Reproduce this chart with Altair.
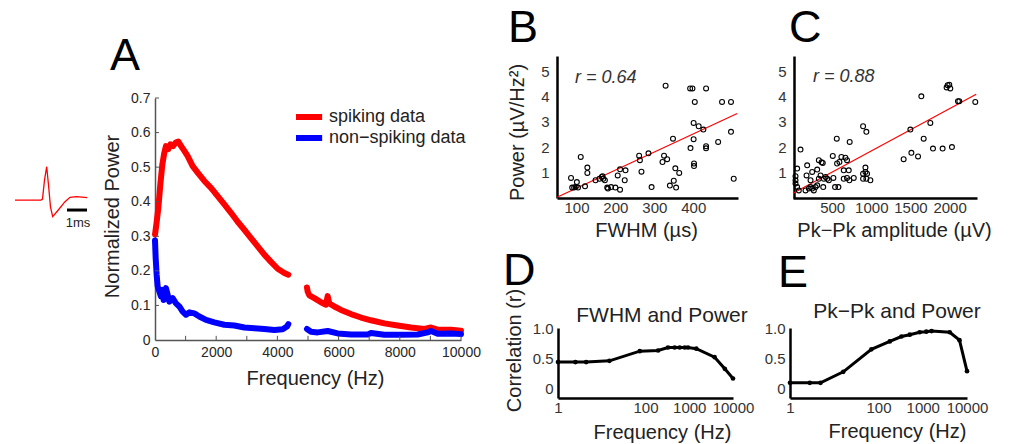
import altair as alt
import pandas as pd

FONT = "Liberation Sans"
TXT = "#222222"

# ---------------- Panel A data ----------------
spk_freq = [0, 44, 109, 174, 240, 305, 359, 436, 501, 588, 675, 763, 850, 959, 1068, 1231, 1394,
            1612, 1830, 2048, 2266, 2484, 2702, 2919, 3137, 3355, 3573, 3791, 4009, 4227, 4357,
            4967, 4989, 5044, 5207, 5425, 5588, 5643, 5697, 5861, 6078, 6405, 6732, 7059, 7495,
            7930, 8366, 8802, 9020, 9237, 9673, 10000]
spk_power = [0.305, 0.334, 0.382, 0.45, 0.508, 0.542, 0.561, 0.552, 0.566, 0.561, 0.571, 0.574,
             0.561, 0.547, 0.532, 0.503, 0.484, 0.46, 0.44, 0.416, 0.392, 0.368, 0.342, 0.319,
             0.295, 0.271, 0.247, 0.226, 0.206, 0.194, 0.189,
             0.152, 0.14, 0.129, 0.121, 0.109, 0.102, 0.127, 0.106, 0.097, 0.087, 0.075, 0.065,
             0.057, 0.048, 0.042, 0.036, 0.032, 0.036, 0.030, 0.030, 0.027]
non_freq = [0, 22, 54, 87, 142, 196, 251, 283, 359, 414, 468, 577, 686, 795, 904, 1013, 1122,
            1285, 1449, 1667, 1939, 2266, 2593, 2919, 3246, 3573, 3900, 4172, 4314, 4357,
            4967, 5098, 5316, 5643, 5970, 6405, 6950, 7059, 7495, 8039, 8584, 8911, 9020, 9237,
            9673, 10000]
non_power = [0.288, 0.237, 0.189, 0.155, 0.14, 0.126, 0.145, 0.116, 0.15, 0.131, 0.111, 0.121,
             0.106, 0.097, 0.082, 0.073, 0.08, 0.077, 0.068, 0.058, 0.051, 0.044, 0.042, 0.036,
             0.034, 0.032, 0.029, 0.031, 0.039, 0.046,
             0.032, 0.024, 0.022, 0.026, 0.019, 0.016, 0.016, 0.020, 0.015, 0.015, 0.016, 0.022,
             0.026, 0.018, 0.019, 0.017]
series_names = ["spiking data", "non\u2212spiking data"]
series_colors = ["#ff0000", "#0000ff"]
a_xticks = [1000, 2000, 3000, 4000, 5000, 6000, 7000, 8000, 9000, 10000]
a_yticks = [0.1, 0.2, 0.3, 0.4, 0.5, 0.6, 0.7]

# waveform inset (ms, arbitrary units)
wave_t = [0, 1.3, 1.375, 1.475, 1.585, 1.675, 1.775, 1.885, 2.165, 2.5, 2.75, 3.085, 3.615]
wave_v = [0, 0, 0.03, 0.6, 1.0, 0.45, -0.21, -0.5, -0.3, -0.05, 0.08, 0.1, 0.07]
bar_t = [2.6, 3.6]
bar_v = [-0.3, -0.3]

# ---------------- Panel B data ----------------
fwhm = [86, 89, 94, 98, 101, 104, 122, 111, 128, 128, 149, 159, 165, 169, 173, 167, 179, 181,
        189, 200, 206, 212, 212, 224, 226, 261, 263, 267, 285, 293, 321, 325, 333, 329, 340,
        348, 350, 354, 356, 364, 393, 392, 398, 401, 404, 401, 402, 402, 414, 426, 433, 433,
        433, 464, 474, 497, 497, 504]
power_b = [0.79, 0.41, 0.41, 0.43, 0.63, 0.41, 0.46, 1.62, 1.2, 0.99, 0.70, 0.76, 0.83, 0.76,
           0.70, 0.86, 0.41, 0.37, 0.43, 0.41, 0.89, 1.13, 0.33, 0.70, 1.09, 1.67, 1.49, 1.04,
           1.76, 0.43, 1.42, 1.67, 1.53, 4.43, 0.49, 2.34, 0.68, 1.17, 0.41, 0.99, 1.97, 4.32,
           4.32, 2.96, 3.79, 2.32, 1.36, 1.26, 2.83, 2.70, 4.32, 2.04, 1.96, 2.21, 3.79, 3.79,
           2.61, 0.76]
fit_b_x = [50, 513]
fit_b_y = [0.03, 3.33]

# ---------------- Panel C data ----------------
pkpk = [96, 53, 32, 32, 53, 74, 32, 181, 245, 224, 245, 266, 288, 309, 330, 365, 380, 309, 352,
        394, 416, 437, 386, 173, 508, 559, 563, 593, 618, 516, 537, 580, 648, 669, 690, 724,
        712, 690, 720, 776, 648, 895, 937, 925, 925, 895, 946, 895, 937, 988, 1413, 1499, 1512,
        1597, 1639, 1669, 1754, 1788, 1911, 1975, 1996, 1962, 2009, 2030, 2107, 2124, 2328,
        160, 202, 224, 330, 458]
power_c = [1.91, 1.16, 0.86, 0.57, 0.43, 0.30, 0.70, 1.29, 1.03, 0.70, 0.37, 0.30, 0.43, 0.50,
           1.49, 1.41, 1.38, 1.12, 0.89, 0.76, 0.83, 0.76, 0.43, 0.89, 1.66, 2.34, 1.36, 1.42,
           1.62, 0.79, 0.43, 0.43, 1.09, 1.59, 1.49, 2.21, 1.09, 0.79, 0.70, 0.79, 0.76, 2.83,
           2.61, 1.20, 1.03, 0.96, 0.96, 0.76, 0.76, 0.70, 1.53, 2.70, 1.78, 1.64, 4.01, 2.34,
           2.96, 1.95, 1.95, 4.45, 4.47, 4.36, 4.32, 2.01, 3.82, 3.82, 3.79, 0.30, 0.37, 0.43,
           0.76, 0.70]
fit_c_x = [0, 2340]
fit_c_y = [0.19, 4.09]

# ---------------- Panels D, E data ----------------
d_freq = [1, 2.5, 4.4, 15, 74, 194, 327, 464, 605, 790, 935, 1450, 3800, 6500, 10000]
d_corr = [0.44, 0.44, 0.44, 0.46, 0.62, 0.63, 0.68, 0.68, 0.68, 0.68, 0.68, 0.66, 0.52, 0.33, 0.17]
e_freq = [1, 2.8, 4.9, 16, 69, 180, 330, 510, 850, 1200, 1580, 4070, 6760, 10000]
e_corr = [0.1, 0.1, 0.1, 0.28, 0.65, 0.78, 0.86, 0.89, 0.93, 0.94, 0.95, 0.93, 0.8, 0.29]


def sc(domain, rng, typ="linear"):
    return alt.Scale(type=typ, domain=domain, range=rng, nice=False, zero=False) if typ == "linear" \
        else alt.Scale(type=typ, domain=domain, range=rng, nice=False)


def ax(orient, offset, values, fmt=None, label_expr=None, title=None, tx=0, ty=0,
       lab_size=15, pad=3, dom_color="black", dom_width=2.5, lab_color="#333333", tsize=20):
    kw = dict(orient=orient, offset=offset, values=values, grid=False, ticks=False, tickSize=0,
              labelPadding=pad, labelFont=FONT, labelFontSize=lab_size, labelColor=lab_color,
              domainColor=dom_color, domainWidth=dom_width, labelFlush=False, labelOverlap=False)
    if fmt is not None:
        kw["format"] = fmt
    if label_expr is not None:
        kw["labelExpr"] = label_expr
    if title is not None:
        kw.update(title=title, titleFont=FONT, titleFontSize=tsize, titleFontWeight="normal",
                  titleColor=TXT, titleX=tx, titleY=ty, titleAlign="center",
                  titleBaseline="middle", titleAngle=270 if orient == "left" else 0)
    else:
        kw["title"] = None
    return alt.Axis(**kw)


def text(s, x, y, size, align="left", baseline="middle", style="normal", color=TXT):
    return alt.Chart(pd.DataFrame({"t": [s]})).mark_text(
        font=FONT, fontSize=size, align=align, baseline=baseline, fontStyle=style, color=color
    ).encode(x=alt.value(x), y=alt.value(y), text="t:N")


H = 444
layers = []

# ---- Panel A ----
AX = sc([0, 10000], [155, 461])
AY = sc([0, 0.7], [340, 98])
rows = []
for f, p in zip(spk_freq, spk_power):
    rows.append({"freq": f, "power": p, "series": series_names[0],
                 "seg": series_names[0] + ("1" if f < 4700 else "2")})
for f, p in zip(non_freq, non_power):
    rows.append({"freq": f, "power": p, "series": series_names[1],
                 "seg": series_names[1] + ("1" if f < 4700 else "2")})
dfA = pd.DataFrame(rows)

a_lines = alt.Chart(dfA).mark_line(strokeWidth=6, strokeCap="round", strokeJoin="round").encode(
    x=alt.X("freq:Q", scale=AX,
            axis=ax("bottom", 340 - H, [0, 2000, 4000, 6000, 8000, 10000], fmt="d",
                    title="Frequency (Hz)", tx=315, ty=38, lab_size=14, pad=5,
                    dom_color="#555555", dom_width=1.5, lab_color="#262626")),
    y=alt.Y("power:Q", scale=AY,
            axis=ax("left", -155, [0, 0.1, 0.2, 0.3, 0.4, 0.5, 0.6, 0.7], fmt=".1~f",
                    title="Normalized Power", tx=-43, ty=216, lab_size=14, pad=5,
                    dom_color="#555555", dom_width=1.5, lab_color="#262626")),
    color=alt.Color("series:N", scale=alt.Scale(domain=series_names, range=series_colors),
                    legend=alt.Legend(orient="none", legendX=296, legendY=107, title=None,
                                      symbolType="M-1.35,0H1.35", symbolSize=380,
                                      symbolStrokeWidth=6, clipHeight=20,
                                      labelFont=FONT, labelFontSize=18, labelColor=TXT,
                                      labelOffset=7, rowPadding=1, padding=0)),
    detail="seg:N",
    order=alt.Order("freq:Q"),
)
a_xt = alt.Chart(pd.DataFrame({"v": a_xticks})).mark_rule(color="#555555", strokeWidth=1).encode(
    x=alt.X("v:Q", scale=AX, axis=None),
    y=alt.YDatum(0, scale=AY, axis=None),
    y2=alt.Y2Datum(0.012),
)
a_yt = alt.Chart(pd.DataFrame({"v": a_yticks})).mark_rule(color="#555555", strokeWidth=1).encode(
    y=alt.Y("v:Q", scale=AY, axis=None),
    x=alt.XDatum(0, scale=AX, axis=None),
    x2=alt.X2Datum(130),
)
layers += [a_lines, a_xt, a_yt]

# ---- waveform inset ----
WX = sc([0, 3.6], [15, 87])
WY = sc([-0.5, 1.0], [216.7, 166.7])
wave = alt.Chart(pd.DataFrame({"t": wave_t, "v": wave_v})).mark_line(
    color="#ff0000", strokeWidth=1.3).encode(
    x=alt.X("t:Q", scale=WX, axis=None), y=alt.Y("v:Q", scale=WY, axis=None))
sbar = alt.Chart(pd.DataFrame({"t": bar_t, "v": bar_v})).mark_line(
    color="black", strokeWidth=3).encode(
    x=alt.X("t:Q", scale=WX, axis=None), y=alt.Y("v:Q", scale=WY, axis=None))
layers += [wave, sbar, text("1ms", 78, 223, 13, align="center")]

# ---- Panel B ----
BX = sc([50, 515], [557, 738])
BY = sc([0, 5.6], [198, 56])
b_pts = alt.Chart(pd.DataFrame({"fwhm": fwhm, "power": power_b})).mark_point(
    shape="circle", filled=False, size=24, strokeWidth=1.1, color="black", opacity=1).encode(
    x=alt.X("fwhm:Q", scale=BX,
            axis=ax("bottom", 198 - H, [100, 200, 300, 400], fmt="d", title="FWHM (\u00b5s)",
                    tx=646, ty=32, pad=2)),
    y=alt.Y("power:Q", scale=BY,
            axis=ax("left", -557, [1, 2, 3, 4, 5], fmt="d",
                    title="Power (\u00b5V/Hz\u00b2)", tx=-40, ty=132, pad=8)),
)
b_fit = alt.Chart(pd.DataFrame({"x": fit_b_x, "y": fit_b_y})).mark_line(
    color="#ff0000", strokeWidth=1.2).encode(
    x=alt.X("x:Q", scale=BX, axis=None), y=alt.Y("y:Q", scale=BY, axis=None))
layers += [b_fit, b_pts, text("r = 0.64", 575, 78, 18, style="italic", color="#333333")]

# ---- Panel C ----
CX = sc([0, 2350], [793, 977])
CY = sc([0, 5.6], [198, 56])
c_pts = alt.Chart(pd.DataFrame({"pkpk": pkpk, "power": power_c})).mark_point(
    shape="circle", filled=False, size=24, strokeWidth=1.1, color="black", opacity=1).encode(
    x=alt.X("pkpk:Q", scale=CX,
            axis=ax("bottom", 198 - H, [500, 1000, 1500, 2000], fmt="d",
                    title="Pk\u2212Pk amplitude (\u00b5V)", tx=894, ty=32, pad=2)),
    y=alt.Y("power:Q", scale=CY, axis=ax("left", -794, [1, 2, 3, 4, 5], fmt="d", pad=8)),
)
c_fit = alt.Chart(pd.DataFrame({"x": fit_c_x, "y": fit_c_y})).mark_line(
    color="#ff0000", strokeWidth=1.2).encode(
    x=alt.X("x:Q", scale=CX, axis=None), y=alt.Y("y:Q", scale=CY, axis=None))
layers += [c_fit, c_pts, text("r = 0.88", 813, 77, 18, style="italic", color="#333333")]

# ---- Panels D and E ----
corr_expr = "datum.value == 0 ? '0' : format(datum.value, '.1f')"
DX = sc([1, 10000], [558, 733], typ="log")
DY = sc([-0.15, 1.0], [398, 328])
d_line = alt.Chart(pd.DataFrame({"f": d_freq, "r": d_corr})).mark_line(
    color="black", strokeWidth=3,
    point=alt.OverlayMarkDef(filled=True, size=22, color="black")).encode(
    x=alt.X("f:Q", scale=DX,
            axis=ax("bottom", 398 - H, [1, 100, 1000, 10000], fmt="d", title="Frequency (Hz)",
                    tx=662, ty=34, pad=2)),
    y=alt.Y("r:Q", scale=DY,
            axis=ax("left", -558, [0, 0.5, 1.0], label_expr=corr_expr,
                    title="Correlation (r)", tx=-44, ty=350, pad=5)),
)
EX = sc([1, 10000], [790, 967], typ="log")
EY = sc([-0.15, 1.0], [398, 328])
e_line = alt.Chart(pd.DataFrame({"f": e_freq, "r": e_corr})).mark_line(
    color="black", strokeWidth=3,
    point=alt.OverlayMarkDef(filled=True, size=22, color="black")).encode(
    x=alt.X("f:Q", scale=EX,
            axis=ax("bottom", 398 - H, [1, 100, 1000, 10000], fmt="d", title="Frequency (Hz)",
                    tx=897, ty=33, pad=2)),
    y=alt.Y("r:Q", scale=EY, axis=ax("left", -790, [0, 0.5, 1.0], label_expr=corr_expr, pad=5)),
)
layers += [d_line, e_line,
           text("FWHM and Power", 662, 316, 21, align="center"),
           text("Pk\u2212Pk and Power", 897, 312, 21, align="center")]

# ---- panel letters ----
for letter, lx, ly in [("A", 110, 70), ("B", 508, 42), ("C", 789, 42), ("D", 503, 285),
                       ("E", 778, 287)]:
    layers.append(text(letter, lx, ly, 45, baseline="alphabetic", color="black"))

chart = alt.layer(*layers).resolve_scale(
    x="independent", y="independent", color="independent"
).properties(
    width=1014, height=444, padding=0, autosize=alt.AutoSizeParams(type="none"),
    background="white",
).configure_view(stroke=None)

chart.save("out.html", embed_options={"renderer": "svg", "actions": False})
